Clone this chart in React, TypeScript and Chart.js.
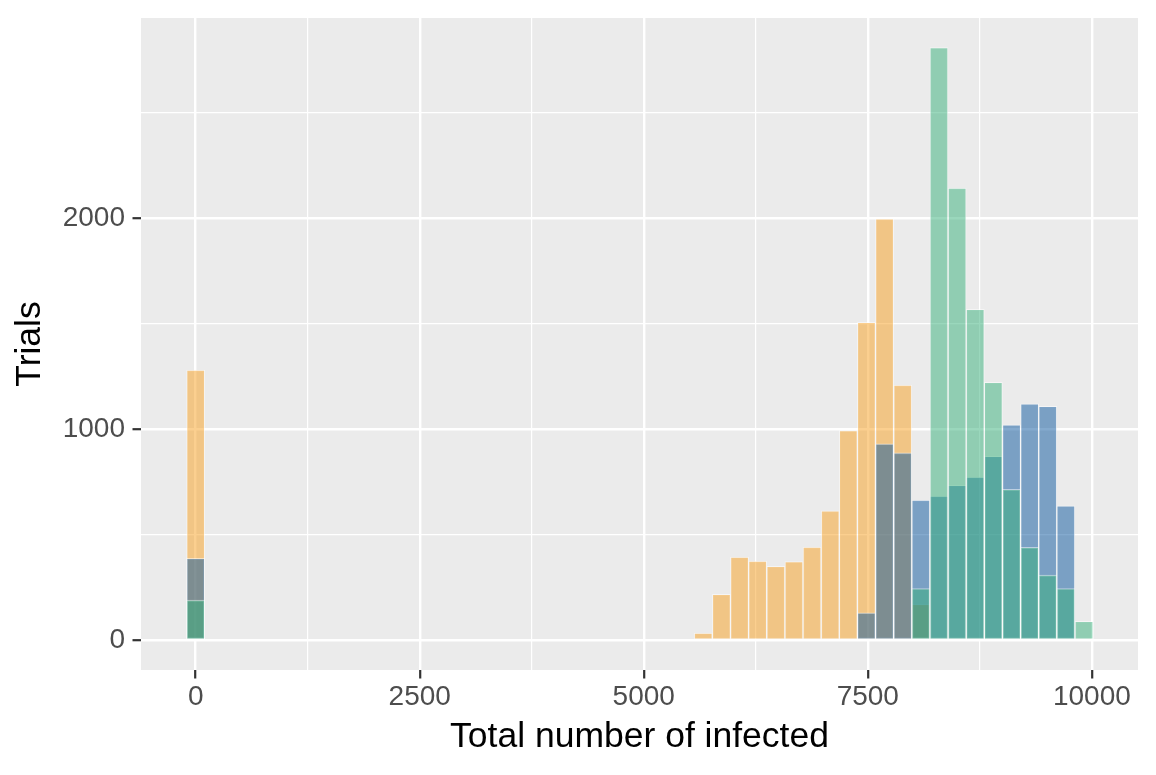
import React, { useEffect, useRef } from "react";
import { Chart, registerables } from "chart.js";

Chart.register(...registerables);

// Histogram bin centres (50 bins of width ~202.3, first bin centred on 0)
const binCenters = [
  0, 5664, 5867, 6069, 6271, 6474, 6676, 6878, 7081, 7283, 7485, 7687, 7890,
  8092, 8294, 8497, 8699, 8901, 9104, 9306, 9508, 9710, 9913,
];

const seriesOrange = [
  1281, 35, 218, 395, 376, 351, 373, 442, 614, 995, 1508, 1998, 1210,
  171, null, null, null, null, null, null, null, null, null,
];

const seriesBlue = [
  389, null, null, null, null, null, null, null, null, null, 131, 932, 889,
  665, 684, 735, 774, 873, 1022, 1121, 1110, 638, null,
];

const seriesGreen = [
  191, null, null, null, null, null, null, null, null, null, null, null, null,
  246, 2810, 2144, 1569, 1223, 716, 441, 309, 246, 90,
];

const xTickValues = [0, 1250, 2500, 3750, 5000, 6250, 7500, 8750, 10000];
const xTickLabels = [0, 2500, 5000, 7500, 10000];
const yTickValues = [0, 500, 1000, 1500, 2000, 2500];
const yTickLabels = [0, 1000, 2000];

const xTitle = "Total number of infected";
const yTitle = "Trials";

const toPoints = (vals: (number | null)[]) =>
  binCenters
    .map((c, i) => ({ x: c, y: vals[i] }))
    .filter((p) => p.y !== null) as { x: number; y: number }[];

const panelBg = {
  id: "panelBg",
  beforeDraw(chart: any) {
    const { ctx, chartArea } = chart;
    ctx.save();
    ctx.fillStyle = "#EBEBEB";
    ctx.fillRect(
      chartArea.left,
      chartArea.top,
      chartArea.right - chartArea.left,
      chartArea.bottom - chartArea.top
    );
    ctx.restore();
  },
};

const FONT = "'Liberation Sans', Arial, Helvetica, sans-serif";

export default function App() {
  const ref = useRef<HTMLCanvasElement | null>(null);

  useEffect(() => {
    if (!ref.current) return;
    const barCommon = {
      borderColor: "rgba(255,255,255,0.5)",
      borderWidth: 1,
      borderSkipped: false as const,
      barPercentage: 1,
      categoryPercentage: 1,
      grouped: false,
    };
    const chart = new Chart(ref.current, {
      type: "bar",
      data: {
        datasets: [
          {
            label: "C",
            data: toPoints(seriesGreen),
            backgroundColor: "rgba(53,175,121,0.5)",
            ...barCommon,
          },
          {
            label: "B",
            data: toPoints(seriesBlue),
            backgroundColor: "rgba(9,85,157,0.5)",
            ...barCommon,
          },
          {
            label: "A",
            data: toPoints(seriesOrange),
            backgroundColor: "rgba(247,159,31,0.5)",
            ...barCommon,
          },
        ] as any,
      },
      options: {
        responsive: false,
        animation: false,
        devicePixelRatio: 1,
        layout: { padding: { top: 18, right: 18, left: 0, bottom: 0 } },
        plugins: {
          legend: { display: false },
          tooltip: { enabled: false },
        },
        scales: {
          x: {
            type: "linear",
            min: -610,
            max: 10515,
            offset: false,
            afterBuildTicks: (axis: any) => {
              axis.ticks = xTickValues.map((v) => ({ value: v }));
            },
            afterFit: (scale: any) => {
              scale.height = 105;
              scale.paddingLeft = 0;
              scale.paddingRight = 0;
            },
            grid: {
              offset: false,
              color: "#FFFFFF",
              lineWidth: (ctx: any) =>
                xTickLabels.includes(ctx.tick?.value) ? 2.4 : 1.2,
              drawTicks: true,
              tickLength: 8.5,
              tickWidth: 2.2,
              tickColor: (ctx: any) =>
                xTickLabels.includes(ctx.tick?.value)
                  ? "#333333"
                  : "rgba(0,0,0,0)",
            },
            border: { display: false },
            ticks: {
              autoSkip: false,
              maxRotation: 0,
              padding: 2,
              color: "#4D4D4D",
              font: { family: FONT, size: 28 },
              callback: (v: any) =>
                xTickLabels.includes(Number(v)) ? String(v) : "",
            },
            title: {
              display: true,
              text: xTitle,
              color: "#000000",
              font: { family: FONT, size: 35.5 },
              padding: { top: 0, bottom: 16.7 },
            },
          },
          y: {
            type: "linear",
            min: -140.5,
            max: 2950.5,
            afterBuildTicks: (axis: any) => {
              axis.ticks = yTickValues.map((v) => ({ value: v }));
            },
            afterFit: (scale: any) => {
              scale.width = 141;
              scale.paddingTop = 0;
              scale.paddingBottom = 0;
            },
            grid: {
              color: "#FFFFFF",
              lineWidth: (ctx: any) =>
                yTickLabels.includes(ctx.tick?.value) ? 2.4 : 1.2,
              drawTicks: true,
              tickLength: 8.5,
              tickWidth: 2.2,
              tickColor: (ctx: any) =>
                yTickLabels.includes(ctx.tick?.value)
                  ? "#333333"
                  : "rgba(0,0,0,0)",
            },
            border: { display: false },
            ticks: {
              autoSkip: false,
              padding: 7.5,
              color: "#4D4D4D",
              font: { family: FONT, size: 28 },
              callback: (v: any) =>
                yTickLabels.includes(Number(v)) ? String(v) : "",
            },
            title: {
              display: true,
              text: yTitle,
              color: "#000000",
              font: { family: FONT, size: 35.5 },
              padding: { top: 8.7, bottom: 0 },
            },
          },
        },
      },
      plugins: [panelBg],
    });
    return () => chart.destroy();
  }, []);

  return (
    <div style={{ position: "absolute", left: 0, top: 0, width: 1156, height: 775 }}>
      <canvas ref={ref} width={1156} height={775} style={{ display: "block" }} />
    </div>
  );
}
